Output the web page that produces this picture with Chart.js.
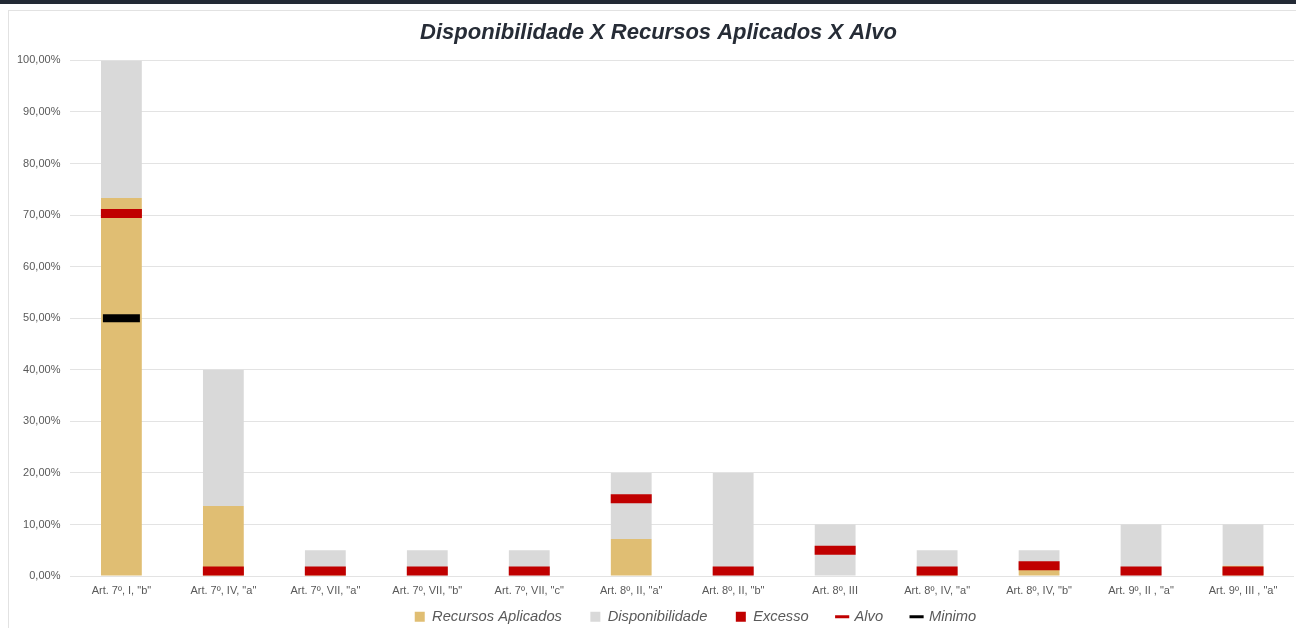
<!DOCTYPE html>
<html>
<head>
<meta charset="utf-8">
<script src="https://cdn.jsdelivr.net/npm/chart.js@4.4.0/dist/chart.umd.min.js"></script>
<style>
  html, body { margin: 0; padding: 0; background: #fff; }
  body { width: 1296px; height: 628px; position: relative; overflow: hidden; }
  #topbar { position: absolute; left: 0; top: 0; width: 1296px; height: 4px; background: #232a35; }
  #card { position: absolute; left: 8px; top: 10px; width: 1300px; height: 640px; border: 1px solid #e2e2e2; box-sizing: border-box; }
  #wrap { position: absolute; left: 0; top: 0; width: 1296px; height: 628px; }
</style>
</head>
<body>
<div id="topbar"></div>
<div id="card"></div>
<div id="wrap"><canvas id="chart"></canvas></div>
<script>
document.addEventListener('DOMContentLoaded', function () {
  // categories (artigos)
  const categories = [
    'Art. 7º, I, "b"', 'Art. 7º, IV, "a"', 'Art. 7º, VII, "a"', 'Art. 7º, VII, "b"',
    'Art. 7º, VII, "c"', 'Art. 8º, II, "a"', 'Art. 8º, II, "b"', 'Art. 8º, III',
    'Art. 8º, IV, "a"', 'Art. 8º, IV, "b"', 'Art. 9º, II , "a"', 'Art. 9º, III , "a"'
  ];

  // values in %
  const recursosAplicados = [73.3, 13.6, 0.2, 0.1, 0.1, 7.2, 0.1, 0, 0.3, 1.2, 0.1, 2.0];
  const limiteTotal       = [100, 40, 5, 5, 5, 20, 20, 10, 5, 5, 10, 10];
  const disponibilidade   = limiteTotal.map((t, i) => t - recursosAplicados[i]);
  const excesso           = [0, 0, 0, 0, 0, 0, 0, 0, 0, 0, 0, 0];
  const alvo              = [70.3, 1, 1, 1, 1, 15, 1, 5, 1, 2, 1, 1];
  const minimo            = [50, null, null, null, null, null, null, null, null, null, null, null];

  const yTicks = [0, 10, 20, 30, 40, 50, 60, 70, 80, 90, 100];

  const fontFamily = '"Liberation Sans", Arial, sans-serif';
  const textColor = '#595959';

  function fmtPct(v) {
    return v.toFixed(2).replace('.', ',') + '%';
  }

  // nudge title and legend a bit to the right, like in the original report
  const blockShift = {
    id: 'blockShift',
    afterLayout: function (chart) {
      if (chart.legend) {
        chart.legend.left += 90;
      }
      if (chart.titleBlock) {
        chart.titleBlock.left += 16;
      }
    }
  };

  var ctx = document.getElementById('chart').getContext('2d');

  new Chart(ctx, {
    type: 'bar',
    plugins: [blockShift],
    data: {
      labels: categories,
      datasets: [
        {
          label: 'Recursos Aplicados',
          data: recursosAplicados,
          backgroundColor: '#e0be73',
          pointStyle: 'rect',
          stack: 'bars',
          order: 3
        },
        {
          label: 'Disponibilidade',
          data: disponibilidade,
          backgroundColor: '#d9d9d9',
          pointStyle: 'rect',
          stack: 'bars',
          order: 3
        },
        {
          label: 'Excesso',
          data: excesso,
          backgroundColor: '#c00000',
          pointStyle: 'rect',
          stack: 'bars',
          order: 3
        },
        {
          type: 'line',
          label: 'Alvo',
          data: alvo,
          showLine: false,
          stack: 'alvo',
          borderColor: '#c00000',
          backgroundColor: '#c00000',
          borderWidth: 3,
          pointStyle: 'line',
          pointRadius: 20.5,
          pointHoverRadius: 20.5,
          pointBorderWidth: 9,
          pointHoverBorderWidth: 9,
          order: 1
        },
        {
          type: 'line',
          label: 'Minimo',
          data: minimo,
          showLine: false,
          stack: 'minimo',
          borderColor: '#000000',
          backgroundColor: '#000000',
          borderWidth: 3,
          pointStyle: 'line',
          pointRadius: 18.5,
          pointHoverRadius: 18.5,
          pointBorderWidth: 8,
          pointHoverBorderWidth: 8,
          order: 0
        }
      ]
    },
    options: {
      responsive: true,
      maintainAspectRatio: false,
      animation: false,
      events: [],
      layout: {
        autoPadding: false,
        padding: { left: 7, right: 2, top: 10, bottom: -6 }
      },
      datasets: {
        bar: {
          categoryPercentage: 0.8,
          barPercentage: 0.5
        }
      },
      scales: {
        x: {
          stacked: true,
          grid: { display: false, drawTicks: false },
          border: { display: false },
          ticks: {
            color: textColor,
            font: { family: fontFamily, size: 11 },
            maxRotation: 0,
            autoSkip: false,
            padding: 8
          }
        },
        y: {
          stacked: true,
          min: 0,
          max: 100,
          afterBuildTicks: function (axis) {
            axis.ticks = yTicks.map(v => ({ value: v }));
          },
          grid: {
            color: '#e3e3e3',
            lineWidth: 1,
            drawTicks: false
          },
          border: { display: false },
          ticks: {
            color: textColor,
            font: { family: fontFamily, size: 11 },
            padding: 10,
            callback: function (value) { return fmtPct(value); }
          }
        }
      },
      plugins: {
        title: {
          display: true,
          text: 'Disponibilidade X Recursos Aplicados X Alvo',
          color: '#262c36',
          font: { family: fontFamily, size: 22, weight: 'bold', style: 'italic' },
          padding: { top: 10, bottom: 14 }
        },
        legend: {
          display: true,
          position: 'bottom',
          labels: {
            usePointStyle: true,
            boxWidth: 10,
            boxHeight: 10,
            padding: 4,
            color: textColor,
            font: { family: fontFamily, size: 14.7, style: 'italic' },
            sort: (a, b) => a.datasetIndex - b.datasetIndex,
            generateLabels: function (chart) {
              const items = Chart.defaults.plugins.legend.labels.generateLabels(chart);
              const lastIndex = chart.data.datasets.length - 1;
              items.forEach(item => {
                if (item.pointStyle === 'line') {
                  item.lineWidth = 3;
                }
                if (item.datasetIndex < lastIndex) {
                  item.text = item.text + '      ';
                }
              });
              return items;
            }
          }
        },
        tooltip: { enabled: false }
      }
    }
  });
});
</script>
</body>
</html>
